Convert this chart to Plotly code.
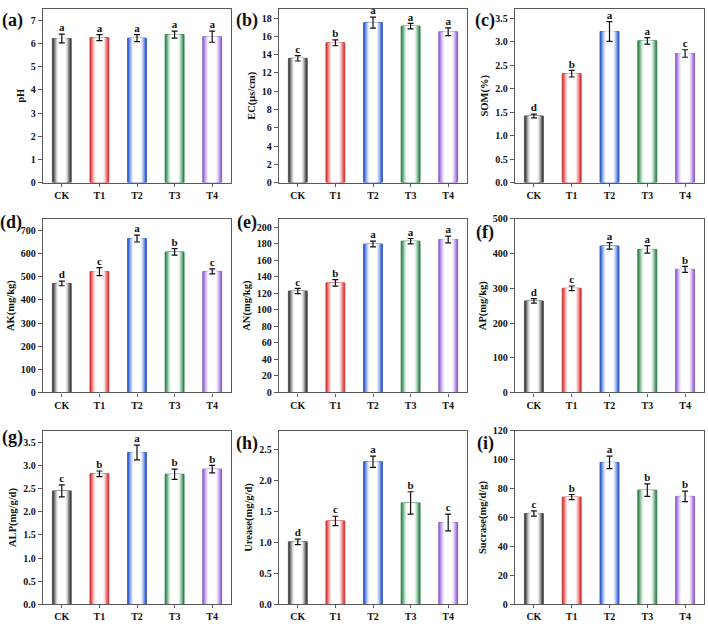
import plotly.graph_objects as go

categories = ["CK", "T1", "T2", "T3", "T4"]

ph = [6.22, 6.26, 6.24, 6.39, 6.30]
ph_err = [0.19, 0.13, 0.15, 0.15, 0.24]
ph_sig = ["a", "a", "a", "a", "a"]

ec = [13.6, 15.29, 17.5, 17.12, 16.5]
ec_err = [0.3, 0.32, 0.6, 0.3, 0.43]
ec_sig = ["c", "b", "a", "a", "a"]

som = [1.42, 2.32, 3.22, 3.02, 2.75]
som_err = [0.04, 0.07, 0.21, 0.07, 0.08]
som_sig = ["d", "b", "a", "a", "c"]

ak = [471, 522, 665, 607, 523]
ak_err = [10, 17, 15, 14, 11]
ak_sig = ["d", "c", "a", "b", "c"]

an = [122.7, 132.5, 179.5, 183.0, 185.0]
an_err = [3.2, 4.0, 3.5, 3.2, 4.0]
an_sig = ["c", "b", "a", "a", "a"]

ap = [263.6, 300.0, 422.0, 412.0, 354.6]
ap_err = [6.6, 6.6, 9.5, 11.0, 8.5]
ap_sig = ["d", "c", "a", "a", "b"]

alp = [2.45, 2.82, 3.28, 2.81, 2.92]
alp_err = [0.13, 0.06, 0.16, 0.11, 0.08]
alp_sig = ["c", "b", "a", "b", "b"]

urease = [1.007, 1.345, 2.30, 1.635, 1.32]
urease_err = [0.045, 0.075, 0.09, 0.18, 0.135]
urease_sig = ["d", "c", "a", "b", "c"]

sucrase = [62.8, 74.1, 98.1, 78.9, 74.6]
sucrase_err = [1.8, 1.8, 4.3, 4.3, 3.6]
sucrase_sig = ["c", "b", "a", "b", "b"]

panel_labels = ["(a)", "(b)", "(c)", "(d)", "(e)", "(f)", "(g)", "(h)", "(i)"]
y_titles = ["pH", "EC(μs/cm)", "SOM(%)", "AK(mg/kg)", "AN(mg/kg)", "AP(mg/kg)",
            "ALP(mg/g/d)", "Urease(mg/g/d)", "Sucrase(mg/d/g)"]
y_ranges = [[0, 7.5], [0, 19], [0, 3.7], [0, 750], [0, 210], [0, 500],
            [0, 3.75], [0, 2.8], [0, 120]]
y_dticks = [1, 2, 0.5, 100, 20, 100, 0.5, 0.5, 20]
y_formats = ["d", "d", ".1f", "d", "d", "d", ".1f", ".1f", "d"]

panels = [
    (ph, ph_err, ph_sig), (ec, ec_err, ec_sig), (som, som_err, som_sig),
    (ak, ak_err, ak_sig), (an, an_err, an_sig), (ap, ap_err, ap_sig),
    (alp, alp_err, alp_sig), (urease, urease_err, urease_sig),
    (sucrase, sucrase_err, sucrase_sig),
]

base_colors = ["#2f2f2f", "#e02c2c", "#2456d6", "#2a8a4a", "#9660dc"]
edge_colors = ["#555555", "#c83a3a", "#3a5fc0", "#2f7a48", "#8a5cc8"]

W, H = 708, 626
col_px = [(43, 231), (279, 467), (515, 704)]
row_px = [(3, 180), (217, 394), (433, 610)]
label_pos = [(12, 15), (247, 15), (485, 15),
             (11, 221), (247, 221), (485, 231),
             (12, 440), (247, 446), (485, 446)]

layer_widths = [0.5, 0.45, 0.4, 0.35, 0.3, 0.25, 0.2]
layer_mix = [0.0, 0.22, 0.42, 0.62, 0.8, 0.93, 1.0]


def mix(hexc, t):
    r, g, b = int(hexc[1:3], 16), int(hexc[3:5], 16), int(hexc[5:7], 16)
    r = round(r + (255 - r) * t)
    g = round(g + (255 - g) * t)
    b = round(b + (255 - b) * t)
    return f"rgb({r},{g},{b})"


FONT = "Liberation Serif, Times New Roman, serif"
fig = go.Figure()
layout = {}
annotations = []

for p, (vals, errs, sigs) in enumerate(panels):
    r, c = divmod(p, 3)
    idx = p + 1
    xa = "x" if idx == 1 else f"x{idx}"
    ya = "y" if idx == 1 else f"y{idx}"
    for li, (w, t) in enumerate(zip(layer_widths, layer_mix)):
        fig.add_trace(go.Bar(
            x=categories, y=vals, width=[w] * 5,
            marker=dict(color=[mix(bc, t) for bc in base_colors],
                        line=dict(width=1 if li == 0 else 0,
                                  color=edge_colors)),
            xaxis=xa, yaxis=ya, showlegend=False, hoverinfo="skip",
        ))
    fig.add_trace(go.Scatter(
        x=categories, y=vals, mode="markers",
        marker=dict(size=1, color="rgba(0,0,0,0)"),
        error_y=dict(type="data", array=errs, visible=True, color="#111",
                     thickness=1.2, width=3),
        xaxis=xa, yaxis=ya, showlegend=False, hoverinfo="skip",
    ))
    fig.add_trace(go.Scatter(
        x=categories, y=[v + e for v, e in zip(vals, errs)], mode="text",
        text=sigs, textposition="top center",
        textfont=dict(family=FONT, size=11, color="#111", weight="bold"),
        xaxis=xa, yaxis=ya, showlegend=False, hoverinfo="skip",
    ))
    x0, x1 = col_px[c]
    y0, y1 = row_px[r]
    axis_common = dict(showline=True, mirror=True, linecolor="#5a5a5a",
                       linewidth=1.3, ticks="outside",
                       tickcolor="#5a5a5a", showgrid=False, zeroline=False,
                       tickfont=dict(family=FONT, size=10, color="#111",
                                     weight="bold"))
    layout[f"xaxis{'' if idx == 1 else idx}"] = dict(
        domain=[x0 / W, x1 / W], anchor=ya, range=[-0.5, 4.5],
        ticklen=3, **axis_common)
    layout[f"yaxis{'' if idx == 1 else idx}"] = dict(
        domain=[1 - y1 / H, 1 - y0 / H], anchor=xa, range=y_ranges[p],
        dtick=y_dticks[p], tickformat=y_formats[p], ticklen=4,
        title=dict(text=y_titles[p], standoff=4,
                   font=dict(family=FONT, size=10.5, color="#111",
                             weight="bold")),
        **axis_common)
    lx, ly = label_pos[p]
    annotations.append(dict(
        text=panel_labels[p], x=lx / W, y=1 - ly / H, xref="paper",
        yref="paper", showarrow=False, xanchor="center", yanchor="middle",
        font=dict(family=FONT, size=18, color="#111", weight="bold")))

fig.update_layout(
    width=W, height=H, margin=dict(l=0, r=0, t=0, b=0),
    plot_bgcolor="white", paper_bgcolor="white", barmode="overlay",
    annotations=annotations, **layout)

fig.write_html("out.html")
